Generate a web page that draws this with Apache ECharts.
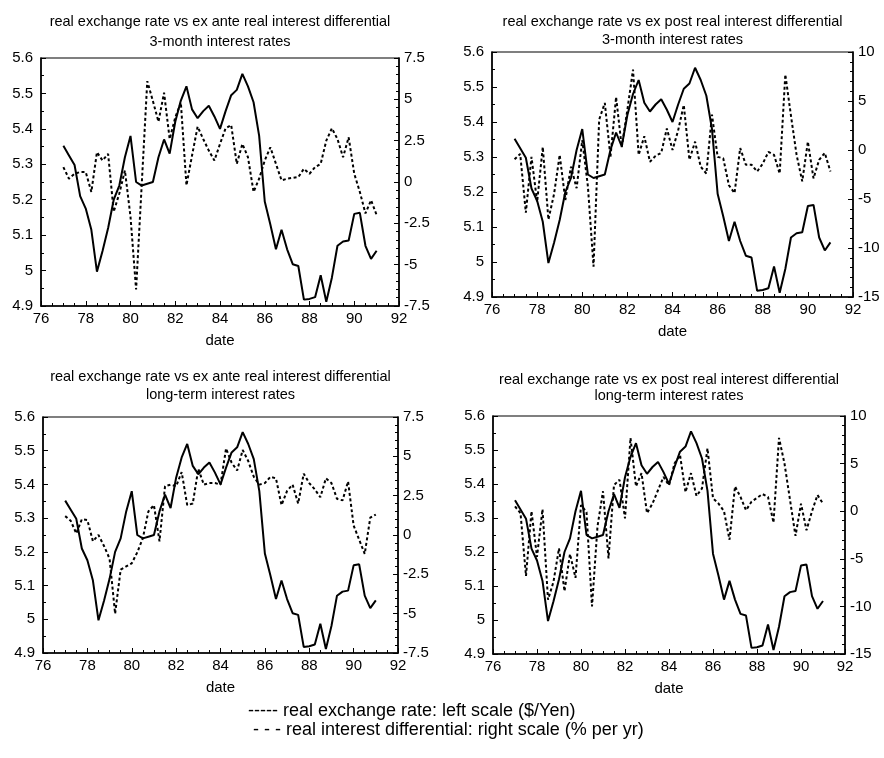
<!DOCTYPE html>
<html>
<head>
<meta charset="utf-8">
<script src="https://cdn.jsdelivr.net/npm/echarts@6/dist/echarts.min.js"></script>
<style>
html,body{margin:0;padding:0;background:#fff;}
#chart{width:884px;height:758px;}
</style>
</head>
<body>
<div id="chart"></div>
<script>
// quarterly dates (year, 19xx)
const dates = [77,77.25,77.5,77.75,78,78.25,78.5,78.75,79,79.25,79.5,79.75,80,80.25,80.5,80.75,81,81.25,81.5,81.75,82,82.25,82.5,82.75,83,83.25,83.5,83.75,84,84.25,84.5,84.75,85,85.25,85.5,85.75,86,86.25,86.5,86.75,87,87.25,87.5,87.75,88,88.25,88.5,88.75,89,89.25,89.5,89.75,90,90.25,90.5,90.75,91];

// real exchange rate (left scale, $/Yen, log)
const exchangeRate = [5.352,5.325,5.298,5.21, 5.175,5.115,4.997,5.055, 5.12,5.20,5.24,5.32, 5.38,5.25,5.24,5.245, 5.25,5.32,5.37,5.33, 5.42,5.48,5.52,5.455, 5.43,5.45,5.465,5.435, 5.40,5.45,5.495,5.51, 5.555,5.52,5.475,5.38, 5.195,5.13,5.06,5.115, 5.06,5.018,5.013,4.918, 4.92,4.925,4.987,4.912, 4.98,5.07,5.082,5.085, 5.16,5.163,5.07,5.033, 5.056];

// real interest differentials (right scale, % per yr)
const exAnte3m = [0.9,0.2,0.5,0.6, 0.6,-0.6,1.8,1.3, 1.7,-1.8,-0.7,0.7, -2.1,-6.5,-0.2,6.1, 4.9,3.65,5.4,2.6, 3.9,4.8,-0.2,1.6, 3.35,2.6,1.9,1.3, 2.3,3.25,3.45,1.1, 2.3,1.5,-0.6,0.2, 1.3,2.1,1.1,0.1, 0.2,0.25,0.3,0.8, 0.5,0.9,1.1,2.5, 3.25,2.6,1.5,2.7, 0.5,-0.6,-1.9,-1.1, -2.0];
const exPost3m = [-0.95,-0.4,-6.4,-0.7, -5.3,0.3,-7.1,-4.5, -0.5,-5.1,-1.7,-3.9, 1.0,-3.7,-11.9,3.1, 4.8,-0.7,5.4,0.3, 4.1,8.2,-0.5,1.4, -1.2,-0.6,-0.3,2.2, 0.0,2.0,4.6,-1.0, 0.85,-1.7,-2.4,3.6, -0.7,-0.85,-3.6,-4.4, 0.2,-1.5,-1.5,-2.2, -1.4,-0.2,-0.5,-2.4, 7.7,3.5,-0.5,-3.2, 0.85,-2.9,-1.0,-0.3, -2.2];
const exAnteLong = [1.2,0.9,0.1,1.0, 0.95,-0.4,0.0,-0.7, -1.5,-5.0,-2.2,-2.0, -1.8,-1.1,-0.2,1.5, 1.9,-0.4,3.1,3.2, 3.1,4.0,1.9,2.0, 4.2,3.2,3.3,3.3, 3.2,5.5,4.6,4.1, 5.4,4.7,3.7,3.2, 3.3,3.7,3.6,1.9, 2.8,3.2,2.0,3.9, 3.3,2.9,2.4,3.6, 3.3,2.3,2.2,3.4, 0.6,-0.3,-1.2,1.1, 1.3];
const exPostLong = [0.5,-0.2,-6.8,0.0, -4.8,0.2,-9.3,-7.4, -3.9,-8.4,-4.5,-7.0, 0.65,-0.1,-10.0,-1.6, 2.1,-4.95,2.75,3.3, -0.75,7.7,2.6,4.0, -0.2,0.8,2.2,3.6, 2.7,5.0,5.9,2.0, 4.0,1.6,2.4,6.6, 1.35,0.8,0.0,-3.0, 2.6,1.5,0.1,1.0, 1.4,1.8,1.5,-1.2, 7.7,5.0,1.2,-2.6, 0.8,-2.0,0.0,1.7, 0.8];

const titleLine1 = ['real exchange rate vs ex ante real interest differential','real exchange rate vs ex post real interest differential','real exchange rate vs ex ante real interest differential','real exchange rate vs ex post real interest differential'];
const titleLine2 = ['3-month interest rates','3-month interest rates','long-term interest rates','long-term interest rates'];
const xTicks = {min:76, max:92, step:2};
const leftTicks = {min:4.9, max:5.6, step:0.1};
const rightTicks = [{min:-7.5,max:7.5,step:2.5},{min:-15,max:10,step:5},{min:-7.5,max:7.5,step:2.5},{min:-15,max:10,step:5}];
const diffSeries = [exAnte3m, exPost3m, exAnteLong, exPostLong];
const legendLines = ['----- real exchange rate: left scale ($/Yen)','- - - real interest differential: right scale (% per yr)'];

// layout (pixels)
const grids = [
  {left:41, top:58, width:358, height:248, t1:22, t2:42},
  {left:492, top:52, width:361, height:245, t1:22, t2:40},
  {left:43, top:417, width:355, height:236, t1:377, t2:395},
  {left:493, top:416, width:352, height:238, t1:380, t2:396}
];
const FONT = 'Liberation Sans, Arial, Helvetica, sans-serif';
const black = '#000';

const option = {animation:false, backgroundColor:'#fff', grid:[], xAxis:[], yAxis:[], series:[], graphic:[]};

grids.forEach((g,i)=>{
  option.grid.push({left:g.left, top:g.top, width:g.width, height:g.height, show:true, borderColor:black, borderWidth:1.2, backgroundColor:'transparent'});
  option.xAxis.push({
    gridIndex:i, type:'value', min:xTicks.min, max:xTicks.max, interval:xTicks.step,
    axisLine:{onZero:false, lineStyle:{color:black, width:1.5}},
    axisTick:{inside:true, length:5, lineStyle:{color:black}},
    minorTick:{show:true, splitNumber:4, length:3, lineStyle:{color:black}},
    splitLine:{show:false},
    axisLabel:{color:black, fontSize:15, margin:5, fontFamily:FONT},
    name:'date', nameLocation:'middle', nameGap:27,
    nameTextStyle:{color:black, fontSize:15, fontFamily:FONT}
  });
  option.yAxis.push({
    gridIndex:i, type:'value', position:'left', min:leftTicks.min, max:leftTicks.max, interval:leftTicks.step,
    axisLine:{show:true, onZero:false, lineStyle:{color:black, width:1.5}},
    axisTick:{show:true, inside:true, length:5, lineStyle:{color:black}},
    minorTick:{show:true, splitNumber:2, length:3, lineStyle:{color:black}},
    splitLine:{show:false},
    axisLabel:{color:black, fontSize:15, margin:8, fontFamily:FONT}
  });
  const r = rightTicks[i];
  option.yAxis.push({
    gridIndex:i, type:'value', position:'right', min:r.min, max:r.max, interval:r.step,
    axisLine:{show:true, onZero:false, lineStyle:{color:black, width:1.5}},
    axisTick:{show:true, inside:true, length:5, lineStyle:{color:black}},
    minorTick:{show:true, splitNumber:5, length:3, lineStyle:{color:black}},
    splitLine:{show:false},
    axisLabel:{color:black, fontSize:15, margin:5, fontFamily:FONT}
  });
  option.series.push({
    type:'line', xAxisIndex:i, yAxisIndex:2*i, showSymbol:false, z:3,
    data:dates.map((d,k)=>[d, exchangeRate[k]]),
    lineStyle:{color:black, width:2}
  });
  option.series.push({
    type:'line', xAxisIndex:i, yAxisIndex:2*i+1, showSymbol:false, z:2,
    data:dates.map((d,k)=>[d, diffSeries[i][k]]),
    lineStyle:{color:black, width:2, type:[3,2.5]}
  });
  const cx = g.left + g.width/2;
  [[titleLine1[i], g.t1],[titleLine2[i], g.t2]].forEach(([txt,y])=>{
    option.graphic.push({type:'text', x:cx, y:y, style:{text:txt, fill:black, font:'14.5px '+FONT, align:'center', verticalAlign:'middle', textAlign:'center', textVerticalAlign:'middle'}});
  });
});

option.graphic.push({type:'text', x:248, y:711, style:{text:legendLines[0], fill:black, font:'18px '+FONT, verticalAlign:'middle', textVerticalAlign:'middle'}});
option.graphic.push({type:'text', x:253, y:730, style:{text:legendLines[1], fill:black, font:'18px '+FONT, verticalAlign:'middle', textVerticalAlign:'middle'}});

const chart = echarts.init(document.getElementById('chart'), null, {renderer:'canvas'});
chart.setOption(option);
</script>
</body>
</html>
